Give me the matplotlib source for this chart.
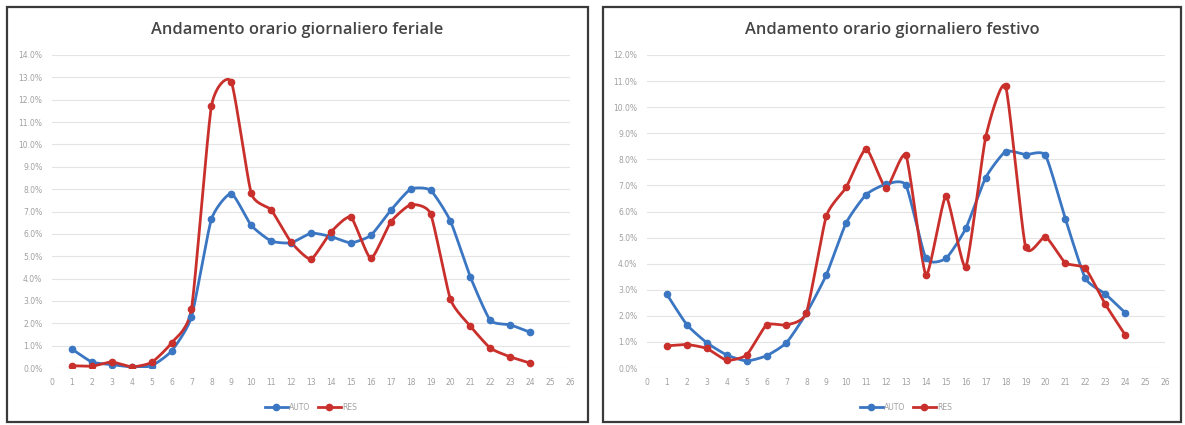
import numpy as np
import matplotlib.pyplot as plt
from matplotlib.patches import Rectangle
from matplotlib.ticker import FuncFormatter, MultipleLocator

# ore del giorno
ore = list(range(1, 25))

# quote orarie (%) - giorno feriale
feriale_auto = [0.85, 0.27, 0.15, 0.05, 0.1, 0.76, 2.28, 6.65, 7.8, 6.38, 5.68, 5.6,
                6.03, 5.88, 5.6, 5.93, 7.05, 8.0, 7.95, 6.57, 4.07, 2.13, 1.93, 1.6]
feriale_res = [0.1, 0.08, 0.27, 0.05, 0.25, 1.12, 2.64, 11.7, 12.8, 7.82, 7.07, 5.63,
               4.87, 6.08, 6.75, 4.9, 6.53, 7.3, 6.9, 3.07, 1.87, 0.89, 0.5, 0.22]

# quote orarie (%) - giorno festivo
festivo_auto = [2.82, 1.66, 0.97, 0.5, 0.27, 0.47, 0.97, 2.1, 3.57, 5.57, 6.65, 7.05,
                7.0, 4.2, 4.2, 5.35, 7.3, 8.3, 8.18, 8.15, 5.72, 3.44, 2.84, 2.12]
festivo_res = [0.85, 0.9, 0.75, 0.3, 0.5, 1.65, 1.65, 2.12, 5.82, 6.93, 8.4, 6.9,
               8.15, 3.57, 6.58, 3.88, 8.85, 10.8, 4.65, 5.03, 4.03, 3.82, 2.45, 1.27]

BLU = '#3b76c2'
ROSSO = '#c9302c'
GRIGIO = '#a0a0a0'


def smooth(x, y, k=0.55, n=20):
    # spline cardinale attraverso i punti (linea smussata), k riduce la tensione
    x = np.asarray(x, float)
    y = np.asarray(y, float)
    t = np.linspace(0, 1, n, endpoint=False)
    h00 = 2 * t ** 3 - 3 * t ** 2 + 1
    h10 = t ** 3 - 2 * t ** 2 + t
    h01 = -2 * t ** 3 + 3 * t ** 2
    h11 = t ** 3 - t ** 2
    xs, ys = [], []
    for p, out in ((x, xs), (y, ys)):
        q = np.concatenate([[p[0]], p, [p[-1]]])
        m = k * (q[2:] - q[:-2]) / 2
        for i in range(len(p) - 1):
            out.extend(h00 * p[i] + h10 * m[i] + h01 * p[i + 1] + h11 * m[i + 1])
        out.append(p[-1])
    return xs, ys


def pannello(fig, rect, titolo, auto, res, ymax, bordo):
    fig.patches.append(Rectangle((bordo[0], bordo[1]), bordo[2], bordo[3],
                                 transform=fig.transFigure, fill=False,
                                 edgecolor='#3a3a3a', linewidth=1.6))
    fig.text(bordo[0] + bordo[2] / 2, 1 - 30 / 425, titolo, ha='center', va='center',
             fontsize=11.8, fontweight='semibold', color='#454545', family='Open Sans')
    ax = fig.add_axes(rect)
    for serie, col, nome in ((auto, BLU, 'AUTO'), (res, ROSSO, 'RES')):
        sx, sy = smooth(ore, serie)
        ax.plot(sx, sy, color=col, linewidth=2.0, zorder=3)
        ax.plot(ore, serie, 'o', color=col, markersize=4.5, zorder=4)
        ax.plot([], [], color=col, linewidth=2.0, marker='o', markersize=4.5, label=nome)
    ax.set_xlim(0, 26)
    ax.set_ylim(0, ymax)
    ax.xaxis.set_major_locator(MultipleLocator(1))
    ax.yaxis.set_major_locator(MultipleLocator(1))
    ax.yaxis.set_major_formatter(FuncFormatter(lambda v, p: f'{v:.1f}%'))
    ax.grid(axis='y', color='#e4e4e4', linewidth=0.8)
    ax.set_axisbelow(True)
    for s in ax.spines.values():
        s.set_visible(False)
    ax.tick_params(length=0, labelsize=5.5, labelcolor=GRIGIO, pad=7)
    ax.legend(loc='upper center', bbox_to_anchor=(0.5, -0.09), ncol=2, frameon=False,
              fontsize=5.5, labelcolor=GRIGIO, handlelength=3, columnspacing=1.0,
              handletextpad=0.2)
    return ax


fig = plt.figure(figsize=(11.85, 4.25), dpi=100)
W, H = 1185, 425

pannello(fig, [52 / W, 1 - 368 / H, 518 / W, 313 / H],
         'Andamento orario giornaliero feriale', feriale_auto, feriale_res, 14,
         [7 / W, 3 / H, 581 / W, 415 / H])
pannello(fig, [647 / W, 1 - 368 / H, 518 / W, 313 / H],
         'Andamento orario giornaliero festivo', festivo_auto, festivo_res, 12,
         [603 / W, 3 / H, 578 / W, 415 / H])

fig.savefig('out.png', dpi=100)
